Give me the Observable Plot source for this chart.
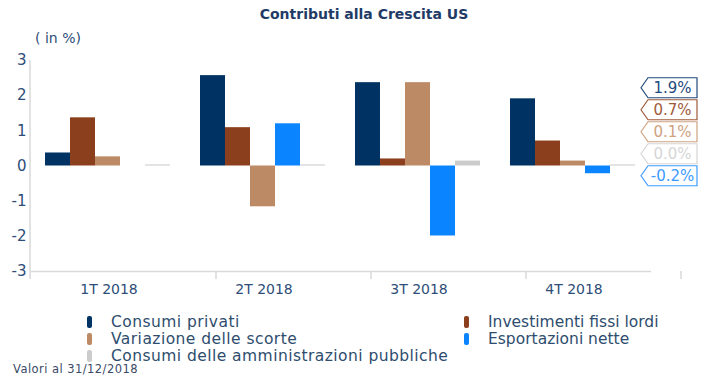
<!DOCTYPE html>
<html>
<head>
<meta charset="utf-8">
<script src="https://cdn.jsdelivr.net/npm/d3@7"></script>
<script src="https://cdn.jsdelivr.net/npm/@observablehq/plot@0.6"></script>
<style>
  html, body { margin: 0; padding: 0; background: #fff; }
  #wrap { position: relative; width: 719px; height: 383px; font-family: "DejaVu Sans", sans-serif; color: #2E4D78; }
  #title { position: absolute; top: 6px; left: 0; width: 728px; text-align: center; font-weight: bold; font-size: 14px; color: #1F3B66; }
  #chart { position: absolute; top: 28px; left: 0; }
  #legend { position: absolute; top: 313px; left: 0; width: 719px; font-size: 15.5px; color: #2E4D6E; }
  .li { position: absolute; height: 18px; line-height: 18px; white-space: nowrap; }
  .sw { position: absolute; top: 3px; width: 5px; height: 12px; border-radius: 2px; }
  #foot { position: absolute; left: 13px; top: 362px; font-size: 11.5px; letter-spacing: 0.45px; color: #3A4A66; }
</style>
</head>
<body>
<div id="wrap">
  <div id="title">Contributi alla Crescita US</div>
  <div id="chart"></div>
  <div id="legend"></div>
  <div id="foot">Valori al 31/12/2018</div>
</div>
<script>
const quarters = ["1T 2018", "2T 2018", "3T 2018", "4T 2018"];
const series = ["Consumi privati", "Investimenti fissi lordi", "Variazione delle scorte", "Esportazioni nette", "Consumi delle amministrazioni pubbliche"];
const colors = ["#003363", "#8B3F1D", "#BD8A66", "#0A84FF", "#CCCCCC"];
const tagColors = ["#234A7E", "#A05A3A", "#CFA27F", "#3D9BFF", "#D6D6D6"];
const consumiPrivati = [0.37, 2.57, 2.37, 1.91];
const investimenti = [1.37, 1.09, 0.20, 0.71];
const scorte = [0.26, -1.16, 2.37, 0.14];
const esportazioni = [0.0, 1.20, -1.99, -0.22];
const pubbliche = [0.03, 0.03, 0.14, 0.03];
const yTicks = [-3, -2, -1, 0, 1, 2, 3];
const unitLabel = "( in %)";

const seriesValues = [consumiPrivati, investimenti, scorte, esportazioni, pubbliche];
const data = [];
quarters.forEach((q, i) => series.forEach((s, j) => data.push({quarter: q, series: s, value: seriesValues[j][i]})));

const W = 719, H = 272, mL = 30, mR = 67, mT = 32, mB = 29;
const plot = Plot.plot({
  width: W, height: H,
  marginLeft: mL, marginRight: mR, marginTop: mT, marginBottom: mB,
  style: {fontFamily: "DejaVu Sans, sans-serif", fontSize: "14px", color: "#2E4D78", background: "transparent"},
  fx: {domain: quarters, padding: 0, label: null, tickSize: 0, tickPadding: 13, axis: "bottom"},
  x: {domain: series, paddingInner: 0, paddingOuter: 0.6, align: 0.45, axis: null},
  y: {domain: [-3, 3], ticks: yTicks, tickSize: 0, tickPadding: 5, label: null, tickFormat: d => String(d)},
  color: {domain: series, range: colors},
  marks: [
    Plot.ruleY([-3], {stroke: "#D9D9D9", strokeWidth: 1.5}),
    Plot.barY(data, {fx: "quarter", x: "series", y: "value", fill: "series"})
  ]
});
document.getElementById("chart").appendChild(plot);

d3.select(plot).selectAll("g[aria-label='y-axis tick label']").attr("font-size", "15px");

const y = plot.scale("y");
const fx = plot.scale("fx");
const svg = d3.select(plot);
const g = svg.append("g").attr("text-anchor", "start");
const y0 = y.apply(-3);
g.append("line").attr("x1", mL).attr("x2", mL).attr("y1", y.apply(3)).attr("y2", y0 + 8)
  .attr("stroke", "#D9D9D9").attr("stroke-width", 1.5);
quarters.forEach(q => {
  const xe = mL + fx.apply(q) + fx.bandwidth;
  g.append("line").attr("x1", xe).attr("x2", xe).attr("y1", y0).attr("y2", y0 + 8)
    .attr("stroke", "#D9D9D9").attr("stroke-width", 1.5);
});
g.append("text").attr("x", mL + 5).attr("y", 10).attr("dy", "0.35em").attr("font-size", "14px")
  .attr("text-anchor", "start").attr("fill", "#2E4D78").text(unitLabel);

const last = quarters.length - 1;
const tags = series.map((s, j) => ({v: seriesValues[j][last], c: tagColors[j]}));
tags.sort((a, b) => b.v - a.v);
let prev = Infinity;
for (let k = tags.length - 1; k >= 0; k--) {
  let cy = y.apply(tags[k].v) + 2.5;
  if (k < tags.length - 1) cy = Math.min(cy, prev - 22);
  tags[k].cy = cy; prev = cy;
}
const tx0 = W - mR - 11, tw = 56, th = 20, tp = 7;
tags.forEach(t => {
  const cy = t.cy;
  g.append("path")
    .attr("d", `M${tx0},${cy} L${tx0 + tp},${cy - th / 2} L${tx0 + tw},${cy - th / 2} L${tx0 + tw},${cy + th / 2} L${tx0 + tp},${cy + th / 2} Z`)
    .attr("fill", "#fff").attr("stroke", t.c).attr("stroke-width", 1.2);
  g.append("text").attr("x", tx0 + tp + (tw - tp) / 2).attr("y", cy).attr("dy", "0.36em")
    .attr("text-anchor", "middle").attr("font-size", "15px").attr("fill", t.c)
    .text(t.v.toFixed(1) + "%");
});

const leg = document.getElementById("legend");
const pos = [[87, 0, 0.45], [464, 0, 0], [87, 16.8, 0.45], [464, 16.8, 0], [87, 33.6, 0.45]];
series.forEach((s, j) => {
  const [lx, ly, ls] = pos[j];
  const it = document.createElement("div");
  it.className = "li";
  it.style.left = lx + "px"; it.style.top = ly + "px";
  it.style.letterSpacing = ls + "px";
  it.innerHTML = `<span class="sw" style="left:0;background:${colors[j]}"></span><span style="margin-left:24px">${s}</span>`;
  leg.appendChild(it);
});
</script>
</body>
</html>
